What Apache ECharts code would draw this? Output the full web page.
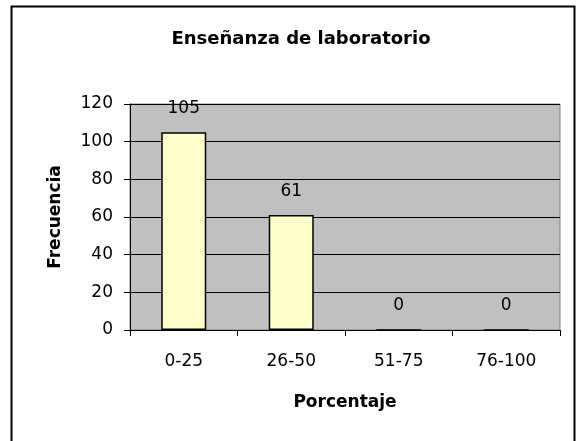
<!DOCTYPE html>
<html>
<head>
<meta charset="utf-8">
<script src="https://cdn.jsdelivr.net/npm/echarts@6/dist/echarts.min.js"></script>
<style>
  html, body { margin: 0; padding: 0; background: #fff; }
  #chart { width: 577px; height: 441px; }
</style>
</head>
<body>
<div id="chart"></div>
<script>
// datos del gráfico
const categorias = ['0-25', '26-50', '51-75', '76-100'];
const frecuencias = [105, 61, 0, 0];
const yTicks = [0, 20, 40, 60, 80, 100, 120];

const chart = echarts.init(document.getElementById('chart'));
const font = 'DejaVu Sans, Arial, sans-serif';

chart.setOption({
  animation: false,
  backgroundColor: '#fff',
  graphic: [{
    type: 'rect',
    shape: { x: 11.5, y: 6.5, width: 563, height: 440 },
    style: { fill: 'none', stroke: '#000', lineWidth: 2 },
    silent: true
  }],
  title: {
    text: 'Enseñanza de laboratorio',
    left: 296, top: 25, textAlign: 'center',
    textStyle: { fontFamily: font, fontSize: 18, fontWeight: 'bold', color: '#000' }
  },
  grid: {
    left: 130, top: 104, width: 430, height: 226,
    show: true, backgroundColor: '#c0c0c0', borderColor: '#808080', borderWidth: 1
  },
  xAxis: {
    type: 'category',
    data: categorias,
    name: 'Porcentaje',
    nameLocation: 'middle',
    nameGap: 64,
    nameTextStyle: { fontFamily: font, fontSize: 17, fontWeight: 'bold', color: '#000' },
    axisLine: { lineStyle: { color: '#000', width: 1 } },
    axisTick: { show: true, length: 6, alignWithLabel: false, lineStyle: { color: '#000' } },
    axisLabel: { fontFamily: font, fontSize: 17, color: '#000', margin: 23 }
  },
  yAxis: {
    type: 'value',
    min: yTicks[0], max: yTicks[yTicks.length - 1], interval: 20,
    name: 'Frecuencia',
    nameLocation: 'middle',
    nameGap: 66,
    nameTextStyle: { fontFamily: font, fontSize: 17, fontWeight: 'bold', color: '#000' },
    axisLine: { show: true, lineStyle: { color: '#000', width: 1 } },
    axisTick: { show: true, length: 6, lineStyle: { color: '#000' } },
    axisLabel: { fontFamily: font, fontSize: 17, color: '#000', margin: 17 },
    splitLine: { show: true, lineStyle: { color: '#000', width: 1 } }
  },
  series: [{
    type: 'bar',
    data: frecuencias,
    barWidth: 45,
    itemStyle: { color: '#ffffcc', borderColor: '#000', borderWidth: 1.5 },
    label: {
      show: true, position: 'top', distance: 15,
      fontFamily: font, fontSize: 17, color: '#000'
    }
  }]
});
</script>
</body>
</html>
